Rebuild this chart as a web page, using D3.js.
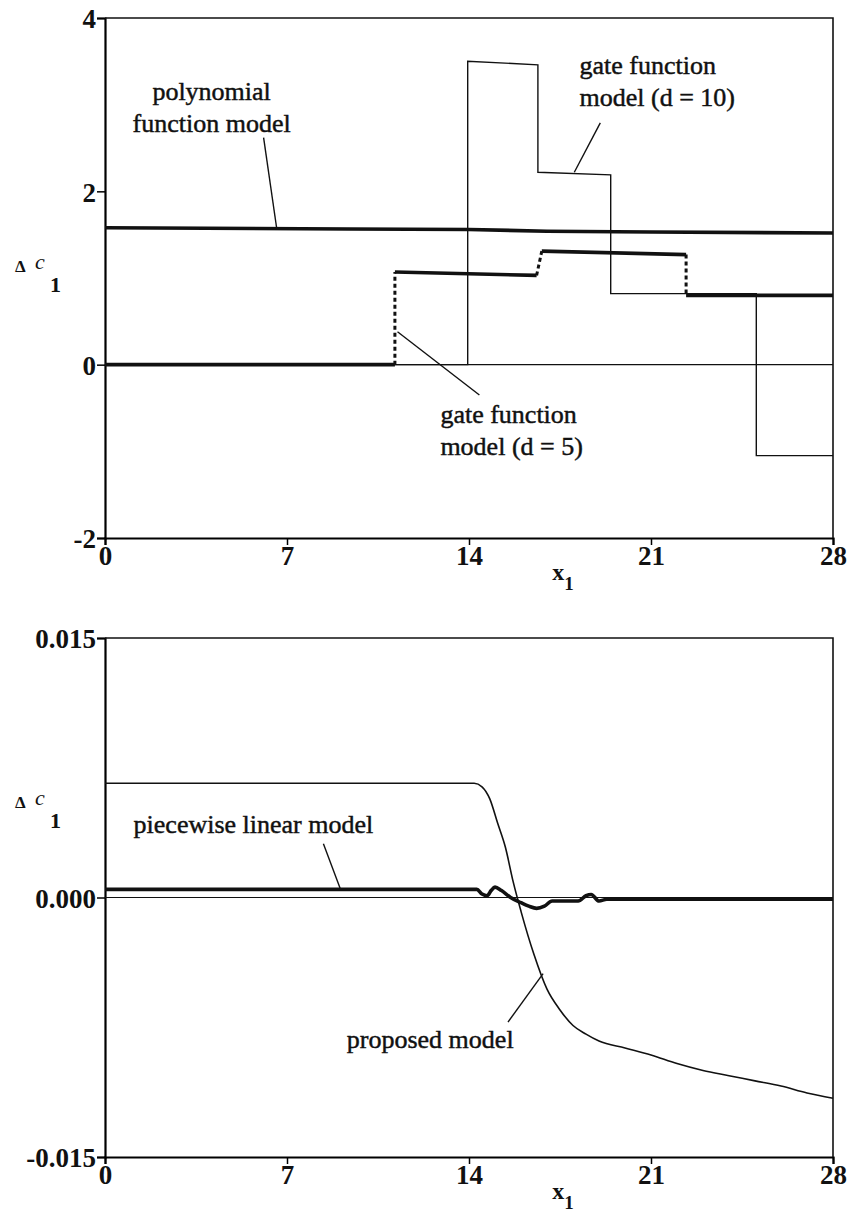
<!DOCTYPE html>
<html>
  <head>
    <meta charset="utf-8">
    <title>delta c1 models</title>
    <script src="https://cdn.jsdelivr.net/npm/d3@7"></script>
    <style>
      body { margin: 0; background: #fff; }
      svg text { font-family: "Liberation Serif", Tinos, "Nimbus Roman", "Times New Roman", "DejaVu Serif", serif; fill: #111; }
      .tick text { font-weight: bold; font-size: 27px; }
      .note { font-size: 26px; stroke: #111; stroke-width: 0.45px; }
    </style>
  </head>

  <body>
    <svg id="chart" width="847" height="1216"></svg>

    <script>
      // data, top panel (x1 vs delta c1)
      xTicks = [0, 7, 14, 21, 28];
      topTicks = [4, 2, 0, -2];
      topTickLabels = ["4", "2", "0", "-2"];

      polynomial = [[0, 1.58], [9.4, 1.565], [14, 1.56], [17, 1.54], [21, 1.53], [28, 1.52]];

      gate10 = [[0, 0], [13.95, 0], [13.95, 3.50], [16.65, 3.46], [16.65, 2.22], [19.45, 2.19],
        [19.45, 0.82], [25.05, 0.82], [25.05, -1.05], [28, -1.05]];

      // gate d = 5: solid runs and dashed jumps between them
      gate5Runs = [
        [[0, 0], [11.15, 0]],
        [[11.15, 1.07], [16.6, 1.03]],
        [[16.8, 1.31], [22.35, 1.27]],
        [[22.35, 0.80], [28, 0.80]]
      ];
      gate5Jumps = [
        [[11.15, 0], [11.15, 1.07]],
        [[16.6, 1.03], [16.8, 1.31]],
        [[22.35, 1.27], [22.35, 0.80]]
      ];

      // data, bottom panel
      bottomTicks = [0.015, 0, -0.015];
      bottomTickLabels = ["0.015", "0.000", "-0.015"];

      proposed = [[0, 0.0066], [14.2, 0.0066], [14.5, 0.0064], [14.8, 0.0057], [15.1, 0.0043],
        [15.4, 0.0029], [15.7, 0.0009], [16.0, -0.0008], [16.5, -0.0033], [17.0, -0.0053],
        [17.5, -0.0065], [18.0, -0.0074], [18.5, -0.0079], [19.0, -0.0083], [20, -0.0087],
        [21, -0.0091], [22, -0.0096], [23, -0.0100], [24, -0.0103], [25, -0.0106],
        [26, -0.0109], [27, -0.0113], [28, -0.0116]];

      piecewise = [[0, 0.00047], [14.3, 0.00047], [14.5, 0.0002], [14.7, 0.0001], [14.85, 0.0004],
        [15.0, 0.0006], [15.25, 0.0004], [15.6, 0.0000], [16.0, -0.0003], [16.3, -0.0005],
        [16.6, -0.00063], [16.9, -0.0005], [17.2, -0.0002], [18.2, -0.0002], [18.5, 0.0001],
        [18.7, 0.00017], [19.0, -0.0002], [19.3, -0.0001], [19.5, -0.0001], [28, -0.0001]];

      // elements
      chart = d3.select("#chart");

      x = d3.scaleLinear().domain([0, 28]).range([105, 833]);
      yTop = d3.scaleLinear().domain([-2, 4]).range([538, 18]);
      yBottom = d3.scaleLinear().domain([-0.015, 0.015]).range([1157, 638]);

      function drawFrame(y, ticks, labels, yDomain, labelAt) {
        g = chart.append("g");

        g.append("g")
          .attr("transform", "translate(0," + y(yDomain[0]) + ")")
          .call(d3.axisBottom(x).tickValues(xTicks).tickSize(7).tickPadding(1).tickFormat(d3.format("d")))
          .call(function(a) {
            a.attr("font-family", null);
            a.select(".domain").attr("stroke-width", 2.2);
            a.selectAll(".tick line").attr("stroke-width", 1.5);
            a.selectAll(".tick text").attr("fill", "#111");
          });

        g.append("g")
          .attr("transform", "translate(" + x(0) + ",0)")
          .call(d3.axisLeft(y).tickValues(ticks).tickSize(8).tickPadding(1)
            .tickFormat(function(d, i) { return labels[i]; }))
          .call(function(a) {
            a.attr("font-family", null);
            a.select(".domain").attr("stroke-width", 2.2);
            a.selectAll(".tick line").attr("stroke-width", 1.5);
            a.selectAll(".tick text").attr("fill", "#111").attr("dy", "0.36em");
          });

        // top and right of the box
        g.append("path")
          .attr("d", "M" + x(0) + "," + y(yDomain[1]) + "H" + x(28) + "V" + y(yDomain[0]))
          .attr("fill", "none")
          .attr("stroke", "#111")
          .attr("stroke-width", 1.6);

        // zero reference line
        g.append("line")
          .attr("x1", x(0)).attr("x2", x(28))
          .attr("y1", y(0)).attr("y2", y(0))
          .attr("stroke", "#111")
          .attr("stroke-width", 1.1);

        // axis titles
        xBase = y(yDomain[0]) + 42;
        xt = g.append("text").attr("x", x(17.2)).attr("y", xBase)
          .style("font-size", "24px").style("font-weight", "bold");
        xt.append("tspan").text("x");
        xt.append("tspan").attr("dy", 10).style("font-size", "19px").text("1");

        yMid = y(labelAt);
        g.append("text").attr("x", 15).attr("y", yMid).style("font-size", "17px")
          .style("font-weight", "bold").text("\u0394");
        g.append("text").attr("x", 35).attr("y", yMid - 3).style("font-size", "22px")
          .style("font-style", "italic").text("c");
        g.append("text").attr("x", 50).attr("y", yMid + 20).style("font-size", "22px")
          .style("font-weight", "bold").text("1");
      }

      function note(lines, x0, y0, anchor) {
        t = chart.append("text").attr("class", "note").attr("text-anchor", anchor || "start");
        lines.forEach(function(s, i) {
          t.append("tspan").attr("x", x0).attr("y", y0 + i * 32).text(s);
        });
      }

      function leader(y, a, b) {
        chart.append("line")
          .attr("x1", x(a[0])).attr("y1", y(a[1]))
          .attr("x2", x(b[0])).attr("y2", y(b[1]))
          .attr("stroke", "#111")
          .attr("stroke-width", 1.4);
      }

      drawFrame(yTop, topTicks, topTickLabels, [-2, 4], 1.07);
      drawFrame(yBottom, bottomTicks, bottomTickLabels, [-0.015, 0.015], 0.0052);

      // top panel lines
      lineTop = d3.line().x(function(d) { return x(d[0]); }).y(function(d) { return yTop(d[1]); });

      chart.append("path").attr("d", lineTop(gate10))
        .attr("fill", "none").attr("stroke", "#111").attr("stroke-width", 1.4);

      chart.append("path").attr("d", lineTop(polynomial))
        .attr("fill", "none").attr("stroke", "#111").attr("stroke-width", 3.6);

      chart.selectAll(".run")
          .data(gate5Runs)
        .enter().append("path")
          .classed("run", true)
          .attr("d", lineTop)
          .attr("fill", "none").attr("stroke", "#111").attr("stroke-width", 3.6);

      chart.selectAll(".jump")
          .data(gate5Jumps)
        .enter().append("path")
          .classed("jump", true)
          .attr("d", lineTop)
          .attr("fill", "none").attr("stroke", "#111").attr("stroke-width", 3)
          .attr("stroke-dasharray", "4,3");

      note(["polynomial", "function model"], x(4.1), yTop(3.05), "middle");
      leader(yTop, [6.1, 2.62], [6.6, 1.58]);

      note(["gate function", "model (d = 10)"], x(18.25), yTop(3.35));
      leader(yTop, [19.05, 2.79], [18.05, 2.22]);

      note(["gate function", "model (d = 5)"], x(12.9), yTop(-0.67));
      leader(yTop, [11.25, 0.38], [14.4, -0.35]);

      // bottom panel lines
      lineBottom = d3.line().curve(d3.curveMonotoneX)
        .x(function(d) { return x(d[0]); }).y(function(d) { return yBottom(d[1]); });

      chart.append("path").attr("d", lineBottom(proposed))
        .attr("fill", "none").attr("stroke", "#111").attr("stroke-width", 1.6);

      chart.append("path").attr("d", lineBottom(piecewise))
        .attr("fill", "none").attr("stroke", "#111").attr("stroke-width", 3.6);

      note(["piecewise linear model"], x(1.1), yBottom(0.0037));
      leader(yBottom, [8.4, 0.0031], [9.05, 0.0005]);

      note(["proposed model"], x(9.3), yBottom(-0.0087));
      leader(yBottom, [15.5, -0.0072], [16.85, -0.0044]);
    </script>
  </body>
</html>
